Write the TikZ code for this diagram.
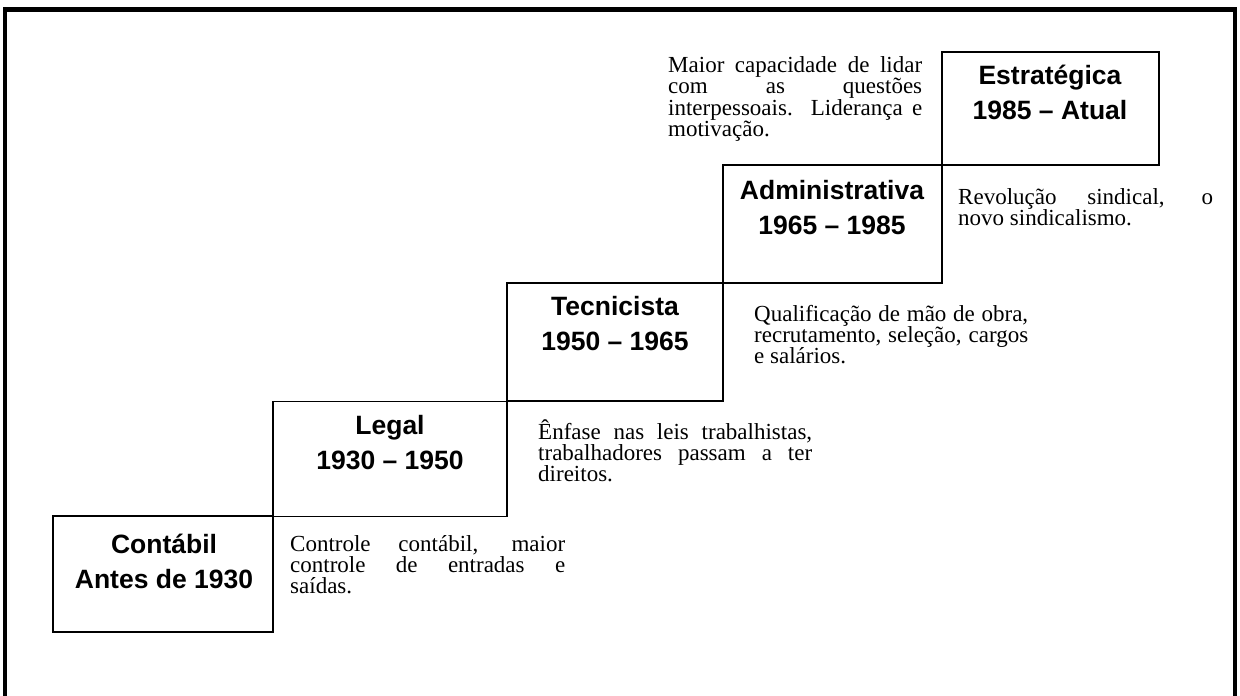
\documentclass[tikz,border=0pt]{standalone}
\usepackage{fontspec}
\setmainfont{Liberation Serif}
\newfontfamily\titlefont{Liberation Sans}
\hbadness=10000
\begin{document}
\begin{tikzpicture}[x=1pt,y=-1pt,
  stagebox/.style={draw, line width=1.6pt, inner sep=0pt, minimum width=#1},
  stagetitle/.style={align=center, inner sep=0pt, font=\titlefont\bfseries\fontsize{26.5}{35}\selectfont},
  desc/.style={anchor=base west, inner sep=0pt, text width=#1, align=justify, font=\fontsize{23}{21}\selectfont},
  frame/.style={line width=4.5pt}
]
\useasboundingbox (0,0) rectangle (1240,696);
\coordinate (fbl) at (5,700);
\coordinate (ftl) at (5,9.5);
\coordinate (ftr) at (1235,9.5);
\coordinate (fbr) at (1235,700);
\draw[frame] (fbl) -- (ftl) -- (ftr) -- (fbr);

% boxes
\node[stagebox=220pt, minimum height=116pt] (c) at (163,574) {};
\node[stagebox=234pt, minimum height=115pt] (l) at (390,459) {};
\node[stagebox=216pt, minimum height=118pt] (t) at (615,342) {};
\node[stagebox=219pt, minimum height=118pt] (a) at (832.5,224) {};
\node[stagebox=217pt, minimum height=113pt] (e) at (1050.5,108.5) {};

% titles
\node[stagetitle] (ct) at (164,561) {Contábil\\Antes de 1930};
\node[stagetitle] (lt) at (390,442.5) {Legal\\1930 – 1950};
\node[stagetitle] (tt) at (615,323.5) {Tecnicista\\1950 – 1965};
\node[stagetitle] (at) at (832,207.5) {Administrativa\\1965 – 1985};
\node[stagetitle] (et) at (1050,92.5) {Estratégica\\1985 – Atual};

% descriptions
\node[desc=275pt] (cd) at (290,551) {Controle contábil, maior\linebreak controle de entradas e\linebreak saídas.};
\node[desc=274pt] (ld) at (538,439) {Ênfase nas leis trabalhistas,\linebreak trabalhadores passam a ter\linebreak direitos.};
\node[desc=274pt] (td) at (754,321) {Qualificação de mão de obra,\linebreak recrutamento, seleção, cargos\linebreak e salários.};
\node[desc=255pt] (ad) at (958,204) {Revolução sindical, o\linebreak novo sindicalismo.};
\node[desc=254pt, font=\fontsize{23}{18}\selectfont] (ed) at (668,72) {Maior capacidade de lidar\linebreak com as questões\linebreak interpessoais. Liderança e\linebreak motivação.};
\end{tikzpicture}
\end{document}
